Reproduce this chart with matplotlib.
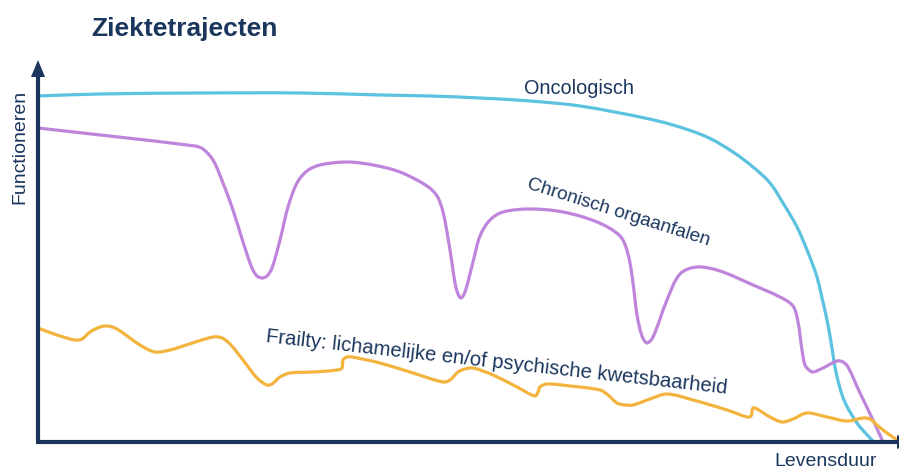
import matplotlib
matplotlib.use("Agg")
import matplotlib.pyplot as plt
from matplotlib.path import Path
from matplotlib.patches import PathPatch
import math

plt.rcParams['font.family'] = ['Liberation Sans', 'DejaVu Sans']

NAVY = '#1b365d'
BLUE = '#5bc2e0'
PURPLE = '#bf85dc'
YELLOW = '#f3b43e'

# Oncologisch trajectory (levensduur, functioneren)
onco_t = [0, 62, 162, 262, 342, 392, 442, 492, 542, 602, 635, 669, 695, 715, 732, 745,
          759, 771, 779, 784, 789, 793, 798, 806, 819, 832, 836]
onco_f = [346, 348, 349, 349, 347, 346, 344, 341, 336, 325, 317, 305, 290, 275, 259, 239,
          215, 187, 165, 144, 122, 100, 70, 42, 19, 4, 0]

# Chronisch orgaanfalen
chron_t = [0, 157, 165, 175, 185, 195, 205, 214, 219, 224, 229, 234, 242, 250, 259, 269,
           282, 309, 335, 362, 389, 399, 405, 410, 414, 417, 420, 423, 427, 435, 442, 452,
           465, 492, 525, 559, 582, 590, 595, 599, 604, 609, 615, 629, 642, 659, 682, 715,
           742, 755, 760, 764, 767, 771, 775, 785, 799, 805, 810, 822, 835, 845]
chron_f = [314, 296, 293, 282, 259, 232, 200, 174, 166, 164, 166, 174, 202, 235, 259, 271,
           277, 280, 277, 270, 256, 246, 230, 204, 179, 159, 148, 144, 150, 180, 206, 222,
           230, 233, 230, 220, 206, 188, 159, 127, 106, 99, 105, 142, 168, 175, 171, 157,
           145, 136, 120, 92, 77, 72, 70, 74, 81, 80, 75, 49, 22, 0]

# Frailty
frail_t = [0, 19, 37, 44, 52, 62, 69, 77, 85, 102, 117, 132, 142, 175, 184, 192, 205, 219,
           229, 234, 242, 252, 275, 299, 304, 305, 309, 314, 342, 375, 405, 412, 420, 427,
           435, 455, 479, 497, 500, 502, 509, 532, 562, 570, 579, 587, 595, 612, 629, 655,
           689, 709, 713, 715, 719, 732, 744, 755, 769, 789, 809, 825, 832, 839, 849, 859, 862]
frail_f = [114, 107, 102, 103, 110, 115, 116, 114, 109, 97, 90, 92, 95, 105, 104, 98, 82, 64,
           57, 58, 65, 69, 70, 72, 74, 82, 85, 85, 79, 69, 60, 62, 70, 73,
           74, 67, 55, 46, 50, 55, 58, 56, 52, 47, 39, 37, 37, 43, 48, 42,
           32, 25, 26, 34, 33, 25, 20, 23, 29, 25, 21, 24, 23, 17, 9, 2, -1]


def smooth_path(xs, ys):
    """Bezier path through every read point, tangents scaled by chord length."""
    pts = list(zip(xs, ys))
    n = len(pts)
    d = [math.hypot(pts[i + 1][0] - pts[i][0], pts[i + 1][1] - pts[i][1]) or 1e-9
         for i in range(n - 1)]
    tang = []
    for i in range(n):
        if i == 0:
            tang.append(((pts[1][0] - pts[0][0]) / d[0], (pts[1][1] - pts[0][1]) / d[0]))
        elif i == n - 1:
            tang.append(((pts[i][0] - pts[i - 1][0]) / d[i - 1], (pts[i][1] - pts[i - 1][1]) / d[i - 1]))
        else:
            s = d[i - 1] + d[i]
            tang.append(((pts[i + 1][0] - pts[i - 1][0]) / s, (pts[i + 1][1] - pts[i - 1][1]) / s))
    verts = [pts[0]]
    codes = [Path.MOVETO]
    for i in range(n - 1):
        p1, p2 = pts[i], pts[i + 1]
        h = d[i] / 3.0
        c1 = (p1[0] + tang[i][0] * h, p1[1] + tang[i][1] * h)
        c2 = (p2[0] - tang[i + 1][0] * h, p2[1] - tang[i + 1][1] * h)
        verts += [c1, c2, p2]
        codes += [Path.CURVE4] * 3
    return Path(verts, codes)


fig = plt.figure(figsize=(8.99, 4.71), dpi=100)
ax = fig.add_axes([0, 0, 1, 1])
ax.set_xlim(-38, 861)
ax.set_ylim(-29, 442)
ax.axis('off')

lw = 2.3
for xs, ys, col in [(onco_t, onco_f, BLUE), (chron_t, chron_f, PURPLE), (frail_t, frail_f, YELLOW)]:
    ax.add_patch(PathPatch(smooth_path(xs, ys), facecolor='none', edgecolor=col, lw=lw,
                           joinstyle='round', capstyle='round', zorder=3))

# axes with arrows
ax.plot([0, 0], [0, 368], color=NAVY, lw=3.0, solid_capstyle='butt', zorder=4)
ax.plot([-2, 860], [0, 0], color=NAVY, lw=3.0, solid_capstyle='butt', zorder=4)
ax.fill([-7, 7, 0], [365, 365, 382], color=NAVY, zorder=4, lw=0)
ax.fill([859, 859, 876], [-7, 7, 0], color=NAVY, zorder=4, lw=0, clip_on=False)

ax.text(-18, 295, 'Functioneren', rotation=90, ha='center', va='center', color=NAVY, fontsize=14)
ax.text(788, -20, 'Levensduur', ha='center', va='center', color=NAVY, fontsize=14)
ax.text(53, 406, 'Ziektetrajecten', ha='left', va='baseline', color=NAVY, fontsize=19, fontweight='bold')

ax.text(486, 348, 'Oncologisch', ha='left', va='baseline', color=NAVY, fontsize=14.3)
ax.text(488, 254, 'Chronisch orgaanfalen', ha='left', va='baseline', color=NAVY, fontsize=13.7,
        rotation=-17.5, rotation_mode='anchor')
ax.text(227, 100, 'Frailty: lichamelijke en/of psychische kwetsbaarheid', ha='left', va='baseline',
        color=NAVY, fontsize=14.6, rotation=-6.4, rotation_mode='anchor')

fig.savefig('out.png', dpi=100)
